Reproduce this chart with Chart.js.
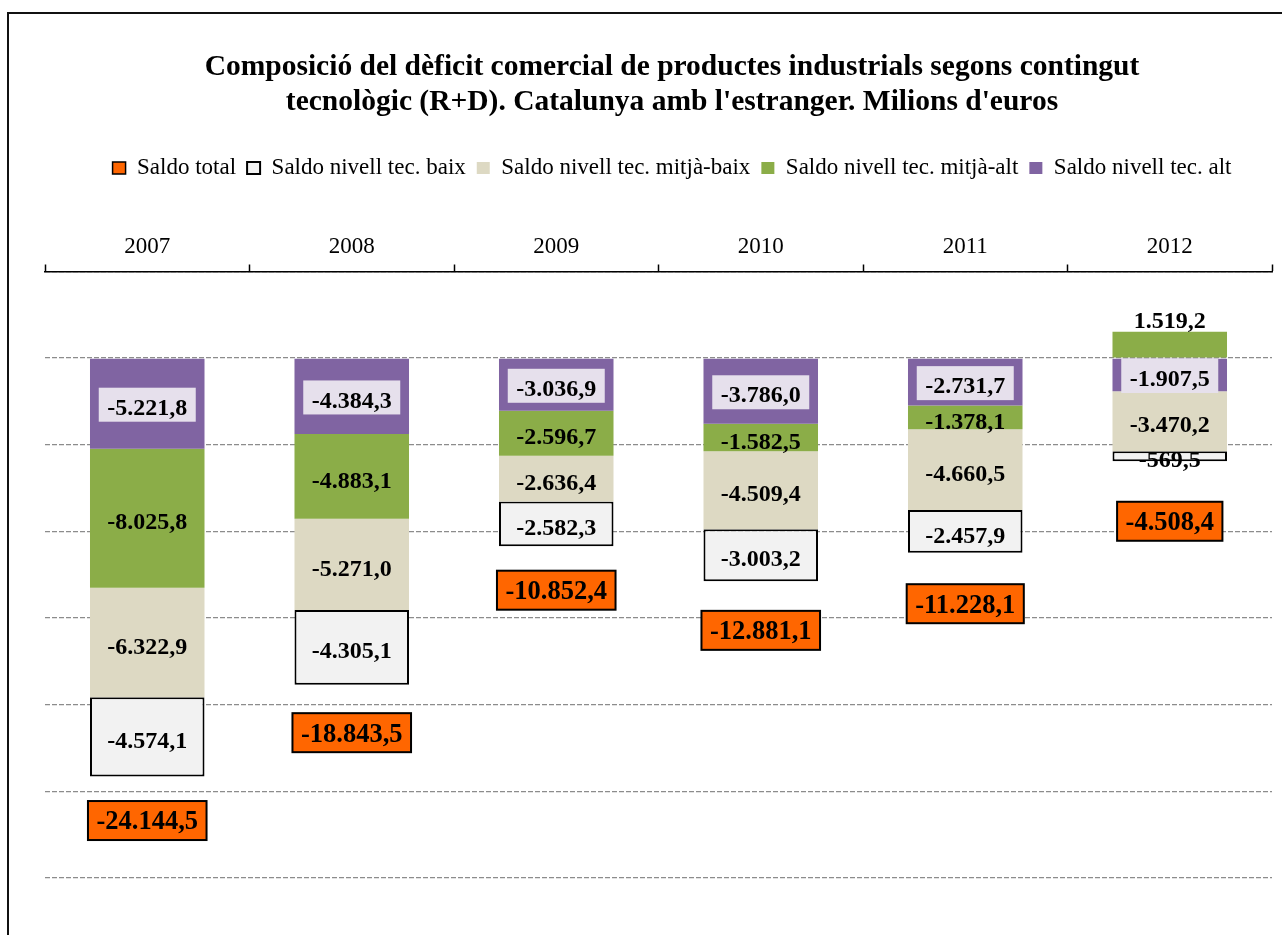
<!DOCTYPE html>
<html>
<head>
<meta charset="utf-8">
<script src="https://cdn.jsdelivr.net/npm/chart.js@4.4.1/dist/chart.umd.min.js"></script>
<style>
  html, body { margin: 0; padding: 0; background: #fff; overflow: hidden; }
  #frame { position: absolute; left: 7px; top: 12px; width: 1340px; height: 980px; border: 2px solid #111; }
  #myChart { display: block; }
</style>
</head>
<body>
<div id="frame"><canvas id="myChart" width="1326" height="950"></canvas></div>
<script>
// data (milions d'euros)
var years = ["2007", "2008", "2009", "2010", "2011", "2012"];
var saldoTotal = [-24144.5, -18843.5, -10852.4, -12881.1, -11228.1, -4508.4];
var saldoBaix = [-4574.1, -4305.1, -2582.3, -3003.2, -2457.9, -569.5];
var saldoMitjaBaix = [-6322.9, -5271.0, -2636.4, -4509.4, -4660.5, -3470.2];
var saldoMitjaAlt = [-8025.8, -4883.1, -2596.7, -1582.5, -1378.1, 1519.2];
var saldoAlt = [-5221.8, -4384.3, -3036.9, -3786.0, -2731.7, -1907.5];

var serif = '"Liberation Serif", "Times New Roman", serif';

function fmt(v) {
    var parts = Math.abs(v).toFixed(1).split('.');
    var ent = parts[0].replace(/\B(?=(\d{3})+(?!\d))/g, '.');
    return (v < 0 ? '-' : '') + ent + ',' + parts[1];
}

// label look per dataset index
var labelStyles = [
    { size: 24, box: '#E6E0EC', h: 34 },                   // alt
    { size: 24 },                                            // mitja-alt
    { size: 24 },                                            // mitja-baix
    { size: 24 },                                            // baix
    { size: 26.5, box: '#FF6600', stroke: '#000', h: 39 }   // total
];
// the total labels sit under the stack, moved by hand in the original
var totalLabelGap = [44, 48, 44, 49, 51, 85];

var valueLabels = {
    id: 'valueLabels',
    afterDatasetsDraw: function (chart) {
        var ctx = chart.ctx;
        ctx.save();
        ctx.textAlign = 'center';
        ctx.textBaseline = 'alphabetic';
        chart.data.datasets.forEach(function (ds, di) {
            var meta = chart.getDatasetMeta(di);
            var st = labelStyles[di];
            meta.data.forEach(function (el, i) {
                var v = ds.data[i];
                var txt = fmt(v);
                var x = el.x, y, boxY, textY;
                ctx.font = 'bold ' + st.size + 'px ' + serif;
                var w = ctx.measureText(txt).width + 17;
                if (meta.type === 'line') {
                    y = el.y + totalLabelGap[i];
                    boxY = y;
                    textY = y;
                } else if (v > 0) {
                    y = el.y - 11.5;
                    boxY = y;
                    textY = y;
                } else {
                    y = (el.y + el.base) / 2;
                    boxY = y + 1;
                    textY = y + 3;
                }
                if (st.box) {
                    ctx.fillStyle = st.box;
                    ctx.fillRect(x - w / 2, boxY - st.h / 2, w, st.h);
                    if (st.stroke) {
                        ctx.lineWidth = 2;
                        ctx.strokeStyle = st.stroke;
                        ctx.strokeRect(x - w / 2, boxY - st.h / 2, w, st.h);
                    }
                }
                ctx.fillStyle = '#000';
                ctx.fillText(txt, x, textY + 0.338 * st.size);
            });
        });
        ctx.restore();
    }
};

var ctxEl = document.getElementById('myChart');
var chart = new Chart(ctxEl, {
    type: 'bar',
    data: {
        labels: years,
        datasets: [
            {
                label: 'Saldo nivell tec. alt',
                data: saldoAlt,
                backgroundColor: '#8064A2',
                borderWidth: 0
            },
            {
                label: 'Saldo nivell tec. mitjà-alt',
                data: saldoMitjaAlt,
                backgroundColor: '#8BAD48',
                borderWidth: 0
            },
            {
                label: 'Saldo nivell tec. mitjà-baix',
                data: saldoMitjaBaix,
                backgroundColor: '#DDD9C3',
                borderWidth: 0
            },
            {
                label: 'Saldo nivell tec. baix',
                data: saldoBaix,
                backgroundColor: '#F2F2F2',
                borderColor: '#000',
                borderWidth: 2,
                borderSkipped: false
            },
            {
                type: 'line',
                label: 'Saldo total',
                data: saldoTotal,
                showLine: false,
                pointRadius: 0,
                pointHoverRadius: 0,
                backgroundColor: '#FF6600',
                borderColor: '#000',
                borderWidth: 1.5
            }
        ]
    },
    options: {
        responsive: false,
        animation: false,
        events: [],
        layout: { padding: { top: 0, left: 0, right: 0, bottom: 86 } },
        datasets: {
            bar: { barPercentage: 0.56, categoryPercentage: 1 }
        },
        plugins: {
            title: {
                display: true,
                text: ['Composició del dèficit comercial de productes industrials segons contingut',
                       "tecnològic (R+D). Catalunya amb l'estranger. Milions d'euros"],
                color: '#000',
                font: { family: serif, size: 29.5, weight: 'bold', lineHeight: 35 / 29.5 },
                padding: { top: 35.5, bottom: 26 }
            },
            legend: {
                reverse: true,
                labels: {
                    color: '#000',
                    font: { family: serif, size: 23 },
                    boxWidth: 13,
                    boxHeight: 12,
                    padding: 11
                }
            },
            tooltip: { enabled: false }
        },
        scales: {
            x: {
                position: 'top',
                stacked: true,
                grid: {
                    drawOnChartArea: false,
                    drawTicks: true,
                    tickLength: 7,
                    tickColor: '#000',
                    tickWidth: 1.5
                },
                border: { color: '#000', width: 1.5 },
                ticks: {
                    color: '#000',
                    font: { family: serif, size: 23 },
                    padding: 3.5
                },
                afterFit: function (scale) { scale.height = 82; }
            },
            y: {
                stacked: true,
                min: -30000,
                max: 5000,
                ticks: { display: false, stepSize: 5000 },
                grid: { color: '#8c8c8c', lineWidth: 1.3, drawTicks: false },
                border: { display: false, dash: [5, 2] },
                afterFit: function (scale) { scale.width = 36; }
            },
            yRight: {
                position: 'right',
                display: true,
                ticks: { display: false },
                grid: { display: false, drawTicks: false },
                border: { display: false },
                afterFit: function (scale) { scale.width = 63; }
            }
        }
    },
    plugins: [valueLabels]
});
</script>
</body>
</html>
